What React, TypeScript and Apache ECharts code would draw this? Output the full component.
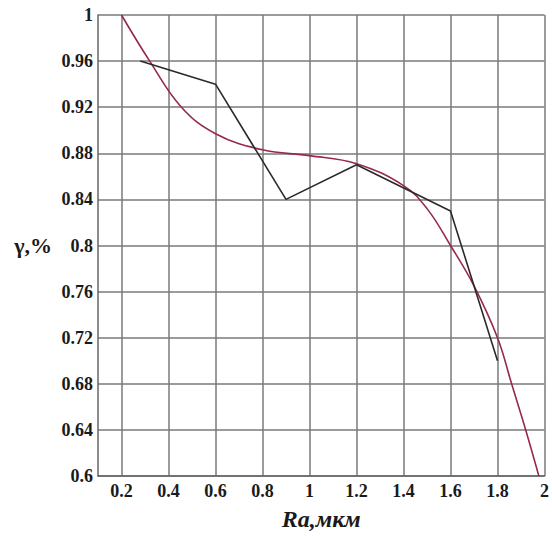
import React, { useEffect, useRef } from "react";
import * as echarts from "echarts";

// Experimental broken line (black)
const expX = [0.28, 0.6, 0.9, 1.2, 1.6, 1.8];
const expY = [0.96, 0.94, 0.84, 0.87, 0.83, 0.70];

// Approximation curve (red)
const fitX = [0.2, 0.32, 0.455, 0.6, 0.8, 1.0, 1.2, 1.4, 1.5, 1.6, 1.7, 1.8, 1.86, 1.92, 1.976];
const fitY = [1.0, 0.96, 0.92, 0.897, 0.883, 0.878, 0.871, 0.852, 0.832, 0.80, 0.765, 0.72, 0.68, 0.64, 0.60];

const xTicks = [0.2, 0.4, 0.6, 0.8, 1, 1.2, 1.4, 1.6, 1.8, 2];

const xName = "Ra,мкм";
const yName = "γ,%";

const FONT = "Times New Roman, Liberation Serif, serif";

export default function App() {
  const ref = useRef<HTMLDivElement>(null);
  useEffect(() => {
    if (!ref.current) return;
    const chart = echarts.init(ref.current, null, { renderer: "svg" });
    const gridColor = "#7a7a7a";
    chart.setOption({
      animation: false,
      backgroundColor: "#ffffff",
      grid: { left: 98, top: 15, right: 4.5, bottom: 56.7 },
      xAxis: {
        type: "value",
        min: 0.1,
        max: 2,
        name: xName,
        nameLocation: "middle",
        nameGap: 31,
        nameTextStyle: {
          fontFamily: FONT,
          fontWeight: "bold",
          fontStyle: "italic",
          fontSize: 24,
          color: "#1a1a1a",
        },
        axisLine: { show: true, onZero: false, lineStyle: { color: "#666", width: 1.5 } },
        axisTick: { show: false, customValues: xTicks },
        axisLabel: {
          customValues: xTicks,
          margin: 6,
          fontFamily: FONT,
          fontWeight: "bold",
          fontSize: 18,
          color: "#1a1a1a",
          formatter: (v: number) => String(Math.round(v * 10) / 10),
        },
        splitLine: { show: true, lineStyle: { color: gridColor, width: 1.5 } },
      },
      yAxis: {
        type: "value",
        min: 0.6,
        max: 1,
        interval: 0.04,
        name: yName,
        nameLocation: "middle",
        nameRotate: 0,
        nameGap: 46,
        nameTextStyle: {
          fontFamily: FONT,
          fontWeight: "bold",
          fontSize: 22,
          color: "#1a1a1a",
          align: "right",
        },
        axisLine: { show: true, onZero: false, lineStyle: { color: "#666", width: 1.5 } },
        axisTick: { show: false },
        axisLabel: {
          margin: 5,
          fontFamily: FONT,
          fontWeight: "bold",
          fontSize: 18,
          color: "#1a1a1a",
          formatter: (v: number) => String(Math.round(v * 100) / 100),
        },
        splitLine: { show: true, lineStyle: { color: gridColor, width: 1.5 } },
      },
      series: [
        {
          type: "line",
          data: fitX.map((x, i) => [x, fitY[i]]),
          smooth: 0.4,
          showSymbol: false,
          lineStyle: { color: "#962a48", width: 1.6 },
          z: 3,
        },
        {
          type: "line",
          data: expX.map((x, i) => [x, expY[i]]),
          smooth: false,
          showSymbol: false,
          lineStyle: { color: "#2a2a2a", width: 1.6 },
          z: 4,
        },
      ],
    });
    return () => chart.dispose();
  }, []);
  return (
    <div
      ref={ref}
      style={{ position: "absolute", left: 0, top: 0, width: 552, height: 536 }}
    />
  );
}
